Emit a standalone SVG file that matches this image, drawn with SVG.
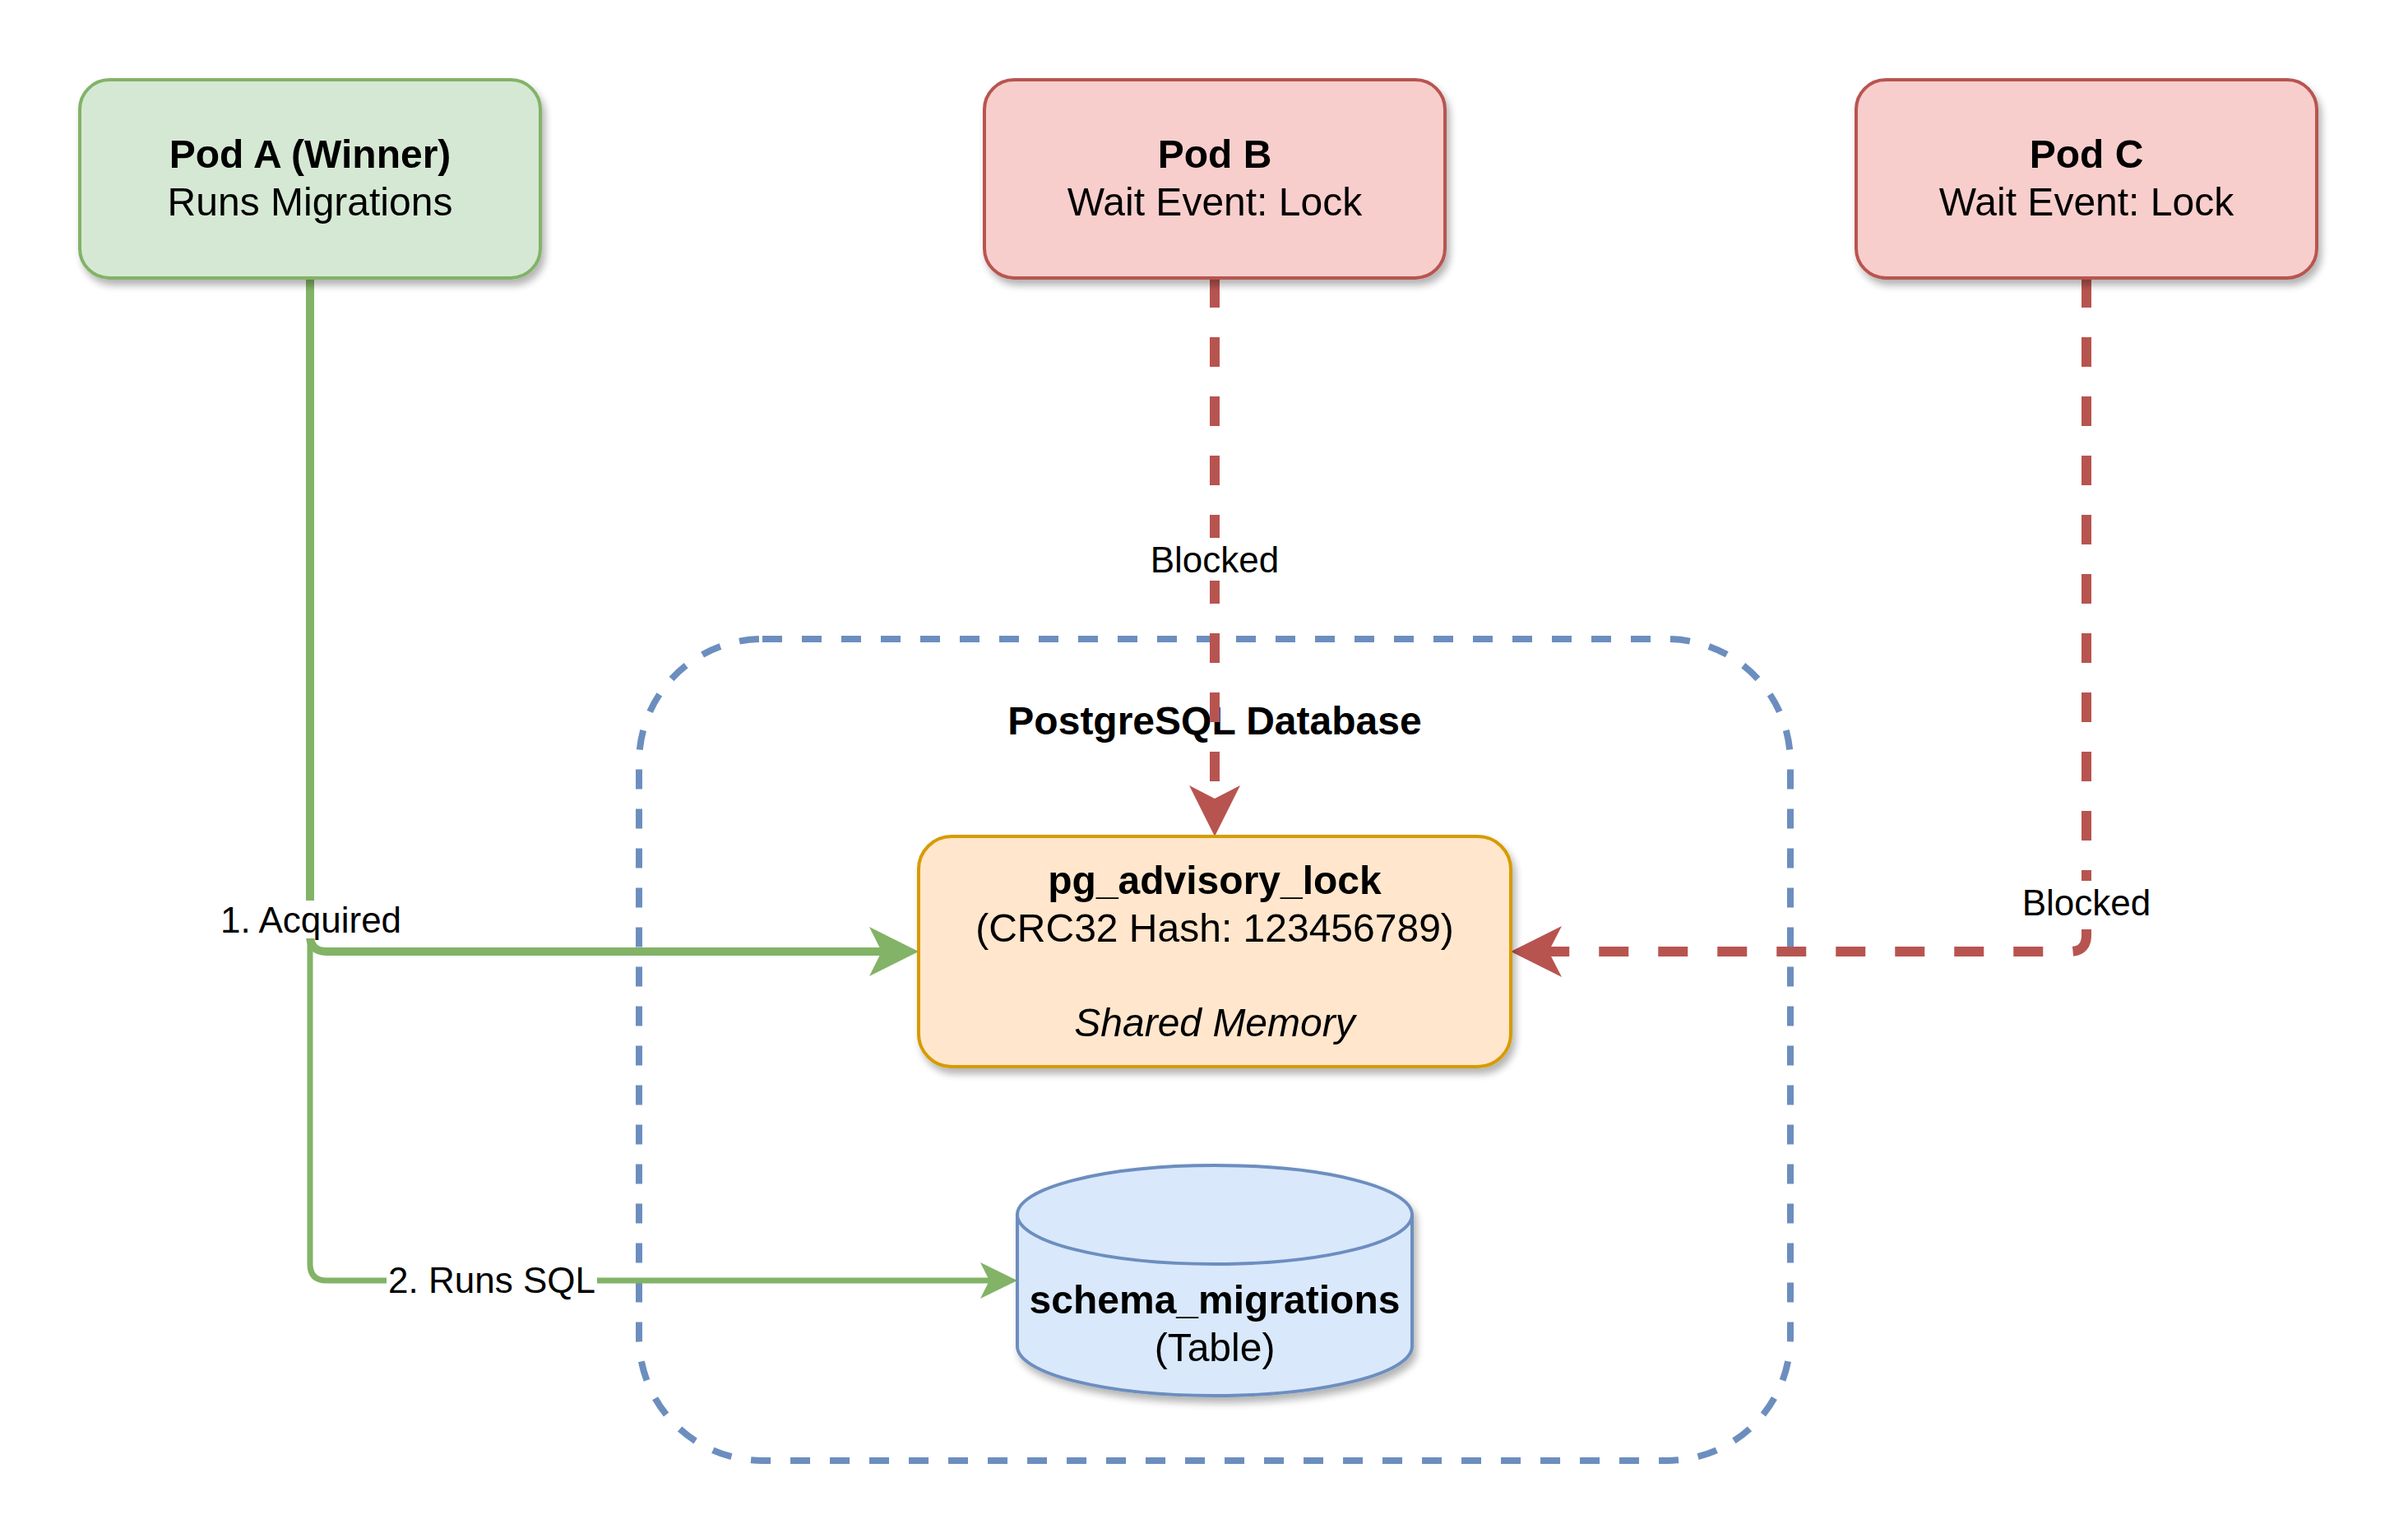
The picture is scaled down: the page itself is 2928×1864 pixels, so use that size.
<svg xmlns="http://www.w3.org/2000/svg" width="2928" height="1864" viewBox="0 0 2928 1864">
  <style>
    text { font-family: "Liberation Sans", Arial, Helvetica, sans-serif; fill: #000000; text-anchor: middle; }
    .t48 { font-size: 48px; }
    .b { font-weight: bold; }
    .i { font-style: italic; }
    .lbl { font-size: 44px; }
    .lblbg { fill: #ffffff; stroke: none; }
    .pod-green { fill: #d5e8d4; stroke: #82b366; stroke-width: 4; }
    .pod-red { fill: #f8cecc; stroke: #b85450; stroke-width: 4; }
    .lock { fill: #ffe6cc; stroke: #d79b00; stroke-width: 4; }
    .db { fill: #dae8fc; stroke: #6c8ebf; stroke-width: 4; }
    .container { fill: none; stroke: #6c8ebf; stroke-width: 8; stroke-dasharray: 24 24; }
    .e-green1 { fill: none; stroke: #82b366; stroke-width: 10; }
    .e-green2 { fill: none; stroke: #82b366; stroke-width: 7; }
    .e-red { fill: none; stroke: #b85450; stroke-width: 12; stroke-dasharray: 36 36; }
  </style>
  <defs>
    <filter id="shadow" x="-10%" y="-10%" width="130%" height="140%">
      <feGaussianBlur in="SourceAlpha" stdDeviation="5"/>
      <feOffset dx="4" dy="7" result="ob"/>
      <feComponentTransfer><feFuncA type="linear" slope="0.3"/></feComponentTransfer>
      <feMerge><feMergeNode/><feMergeNode in="SourceGraphic"/></feMerge>
    </filter>
    <marker id="arrow-green" markerUnits="userSpaceOnUse" viewBox="0 0 60 60" refX="15" refY="30" markerWidth="60" markerHeight="60" orient="auto">
      <path d="M60,30 L0,0 L15,30 L0,60 Z" fill="#82b366"/>
    </marker>
    <marker id="arrow-green-small" markerUnits="userSpaceOnUse" viewBox="0 0 45 44" refX="11" refY="22" markerWidth="45" markerHeight="44" orient="auto">
      <path d="M45,22 L0,0 L11,22 L0,44 Z" fill="#82b366"/>
    </marker>
    <marker id="arrow-red" markerUnits="userSpaceOnUse" viewBox="0 0 62 62" refX="16" refY="31" markerWidth="62" markerHeight="62" orient="auto">
      <path d="M62,31 L0,0 L16,31 L0,62 Z" fill="#b85450"/>
    </marker>
  </defs>

  <rect width="2928" height="1864" fill="#ffffff"/>

  <g id="postgres-container">
    <rect class="container" x="777" y="777" width="1400" height="999" rx="150" ry="150"/>
    <text class="t48 b" x="1477" y="893">PostgreSQL Database</text>
  </g>

  <g id="connectors">
    <path id="edge-runs-sql" class="e-green2" d="M377,338 V1537 Q377,1557 397,1557 H1203" marker-end="url(#arrow-green-small)"/>
    <path id="edge-acquired" class="e-green1" d="M377,338 V1137 Q377,1157 397,1157 H1072" marker-end="url(#arrow-green)"/>
    <path id="edge-podb-blocked" class="e-red" d="M1477,338 V971" marker-end="url(#arrow-red)"/>
    <path id="edge-podc-blocked" class="e-red" d="M2537,338 V1137 Q2537,1157 2517,1157 H1883" marker-end="url(#arrow-red)"/>
    <rect class="lblbg" x="264" y="1095" width="228" height="46"/>
    <text class="lbl" x="378" y="1134">1. Acquired</text>
    <rect class="lblbg" x="470" y="1533" width="256" height="48"/>
    <text class="lbl" x="598" y="1572">2. Runs SQL</text>
    <rect class="lblbg" x="1397" y="654" width="160" height="52"/>
    <text class="lbl" x="1477" y="696">Blocked</text>
    <rect class="lblbg" x="2457" y="1071" width="160" height="52"/>
    <text class="lbl" x="2537" y="1113">Blocked</text>
  </g>

  <g id="pod-a" filter="url(#shadow)">
    <rect class="pod-green" x="97" y="97" width="560" height="241" rx="36" ry="36"/>
    <text class="t48 b" x="377" y="204">Pod A (Winner)</text>
    <text class="t48" x="377" y="262">Runs Migrations</text>
  </g>

  <g id="pod-b" filter="url(#shadow)">
    <rect class="pod-red" x="1197" y="97" width="560" height="241" rx="36" ry="36"/>
    <text class="t48 b" x="1477" y="204">Pod B</text>
    <text class="t48" x="1477" y="262">Wait Event: Lock</text>
  </g>

  <g id="pod-c" filter="url(#shadow)">
    <rect class="pod-red" x="2257" y="97" width="560" height="241" rx="36" ry="36"/>
    <text class="t48 b" x="2537" y="204">Pod C</text>
    <text class="t48" x="2537" y="262">Wait Event: Lock</text>
  </g>

  <g id="pg-advisory-lock" filter="url(#shadow)">
    <rect class="lock" x="1117" y="1017" width="720" height="280" rx="40" ry="40"/>
    <text class="t48 b" x="1477" y="1087">pg_advisory_lock</text>
    <text class="t48" x="1477" y="1145">(CRC32 Hash: 123456789)</text>
    <text class="t48 i" x="1477" y="1260">Shared Memory</text>
  </g>

  <g id="schema-migrations" filter="url(#shadow)">
    <path class="db" d="M1237,1477 A240,60 0 0 1 1717,1477 V1637 A240,60 0 0 1 1237,1637 Z"/>
    <path class="db" fill="none" d="M1237,1477 A240,60 0 0 0 1717,1477" style="fill:none"/>
    <text class="t48 b" x="1477" y="1597">schema_migrations</text>
    <text class="t48" x="1477" y="1655">(Table)</text>
  </g>
</svg>
